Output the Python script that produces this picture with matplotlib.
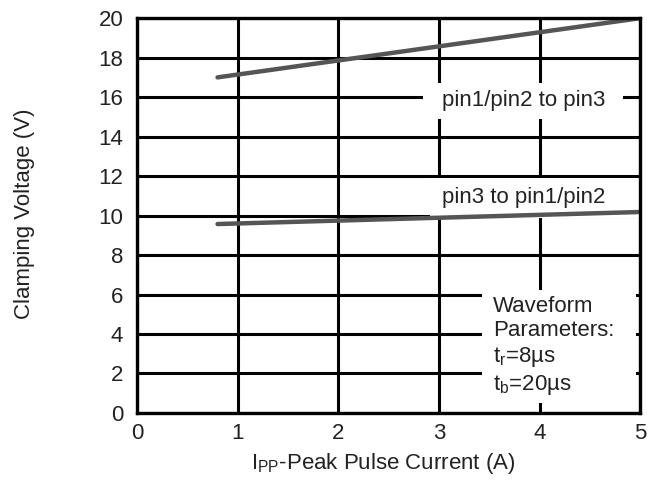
import matplotlib.pyplot as plt
from matplotlib.patches import Rectangle

plt.rcParams['font.family'] = ['Liberation Sans', 'DejaVu Sans']

# data
x_pts = [0.8, 5.0]
upper_v = [17.0, 20.0]    # pin1/pin2 to pin3
lower_v = [9.57, 10.18]   # pin3 to pin1/pin2
x_ticks = [0, 1, 2, 3, 4, 5]
y_ticks = [0, 2, 4, 6, 8, 10, 12, 14, 16, 18, 20]

FS = 16
TXT = '#222222'

fig = plt.figure(figsize=(6.6, 4.91), dpi=100)
ax = fig.add_axes([0.2076, 0.159, 0.7624, 0.804])

ax.set_xlim(0, 5)
ax.set_ylim(0, 20)
ax.set_xticks(x_ticks)
ax.set_yticks(y_ticks)
ax.grid(True, color='black', linewidth=2.2)
ax.tick_params(length=0, labelsize=FS, colors=TXT)
ax.tick_params(axis='x', pad=7)
ax.tick_params(axis='y', pad=10)
for s in ax.spines.values():
    s.set_linewidth(2.4)
    s.set_zorder(5)

# white masks behind the labels (hide the grid there)
for (x0, y0, x1, y1) in [(2.84, 14.89, 4.83, 16.71),
                         (2.91, 9.9, 5.0, 11.88),
                         (3.43, 0.5, 4.96, 6.23)]:
    ax.add_patch(Rectangle((x0, y0), x1 - x0, y1 - y0, facecolor='white',
                           edgecolor='none', zorder=2))

ax.plot(x_pts, upper_v, color='#555555', linewidth=3.2, solid_capstyle='round', zorder=3)
ax.plot(x_pts, lower_v, color='#555555', linewidth=3.2, solid_capstyle='round', zorder=3)

ax.text(3.84, 15.85, 'pin1/pin2 to pin3', ha='center', va='center',
        fontsize=FS, color=TXT, zorder=4)
ax.text(3.84, 10.9, 'pin3 to pin1/pin2', ha='center', va='center',
        fontsize=FS, color=TXT, zorder=4)
ax.text(3.54, 3.39,
        'Waveform\nParameters:\n$\\mathregular{t_r}$=8µs\n$\\mathregular{t_b}$=20µs',
        ha='left', va='center', fontsize=FS, color=TXT, linespacing=1.22, zorder=4)

ax.set_xlabel('I$\\mathregular{_{PP}}$-Peak Pulse Current (A)', fontsize=FS, color=TXT)
ax.set_ylabel('Clamping Voltage (V)', fontsize=FS, color=TXT)
ax.xaxis.label.set_va('center')
ax.yaxis.label.set_va('center')
ax.xaxis.set_label_coords(0.49, -0.127)
ax.yaxis.set_label_coords(-0.223, 0.505)

fig.savefig('out.png', dpi=100)
